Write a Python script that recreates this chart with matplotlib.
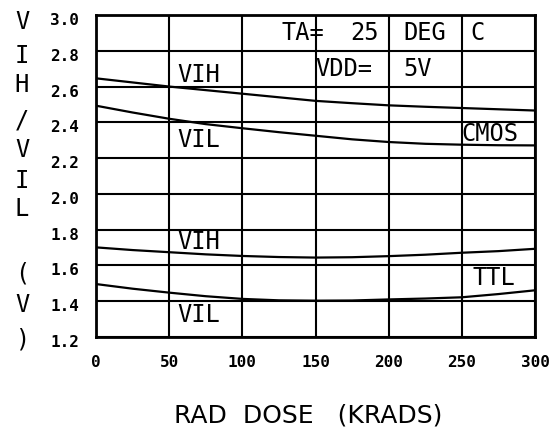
import matplotlib
matplotlib.use("Agg")
import matplotlib.pyplot as plt
import matplotlib.transforms as mtransforms

dose = [0, 25, 50, 75, 100, 125, 150, 175, 200, 225, 250, 275, 300]
cmos_vih = [2.646, 2.623, 2.600, 2.580, 2.560, 2.540, 2.520, 2.507, 2.495, 2.487, 2.480, 2.473, 2.466]
cmos_vil = [2.493, 2.455, 2.420, 2.390, 2.367, 2.345, 2.325, 2.305, 2.290, 2.280, 2.275, 2.272, 2.271]
ttl_vih = [1.701, 1.686, 1.674, 1.662, 1.653, 1.647, 1.644, 1.646, 1.652, 1.660, 1.671, 1.680, 1.693]
ttl_vil = [1.496, 1.470, 1.448, 1.428, 1.413, 1.405, 1.403, 1.404, 1.410, 1.415, 1.422, 1.440, 1.461]

xticks = [0, 50, 100, 150, 200, 250, 300]
xticklabels = ["0", "50", "100", "150", "200", "250", "300"]
yticks = [1.2, 1.4, 1.6, 1.8, 2.0, 2.2, 2.4, 2.6, 2.8, 3.0]
yticklabels = ["1.2", "1.4", "1.6", "1.8", "2.0", "2.2", "2.4", "2.6", "2.8", "3.0"]
ylabel_chars = ["V", "I", "H", "/", "V", "I", "L", "(", "V", ")"]
xlabel = "RAD  DOSE   (KRADS)"

W, H = 559, 429
fig = plt.figure(figsize=(W / 100, H / 100), dpi=100)
ax = fig.add_axes([96 / W, 1 - 337 / H, (535 - 96) / W, (337 - 15) / H])
ax.set_xlim(0, 300)
ax.set_ylim(1.2, 3.0)

mono = "DejaVu Sans Mono"

for s in ax.spines.values():
    s.set_linewidth(2.0)
    s.set_color("black")

ax.set_xticks(xticks)
ax.set_xticklabels(xticklabels, family=mono, fontweight="bold", fontsize=11.5)
ax.set_yticks(yticks)
ax.set_yticklabels(yticklabels, family=mono, fontweight="bold", fontsize=11.5)
ax.tick_params(length=0)
ax.tick_params(axis="x", pad=13)
ax.tick_params(axis="y", pad=12)
off = mtransforms.ScaledTranslation(0, -4 / 100, fig.dpi_scale_trans)
for lab in ax.get_yticklabels():
    lab.set_transform(lab.get_transform() + off)
ax.grid(True, color="black", linewidth=1.5)
ax.set_axisbelow(True)

for ys in (cmos_vih, cmos_vil, ttl_vih, ttl_vil):
    ax.plot(dose, ys, color="black", linewidth=1.6)

fs = 17
txt = dict(family=mono, fontsize=fs, color="black", va="center", ha="left")
ax.text(55.4, 2.665, "VIH", **txt)
ax.text(55.4, 2.300, "VIL", **txt)
ax.text(55.4, 1.731, "VIH", **txt)
ax.text(55.4, 1.323, "VIL", **txt)
ax.text(249.5, 2.335, "CMOS", **txt)
ax.text(257.6, 1.530, "TTL", **txt)
ax.text(127, 2.90, "TA=", **txt)
ax.text(173.6, 2.90, "25", **txt)
ax.text(209.8, 2.90, "DEG", **txt)
ax.text(255.6, 2.90, "C", **txt)
ax.text(149.7, 2.70, "VDD=", **txt)
ax.text(209.8, 2.70, "5V", **txt)

ypos = [22, 56, 85, 120, 150, 181, 209, 273, 305, 339]
for ch, yp in zip(ylabel_chars, ypos):
    fig.text(22 / W, 1 - yp / H, ch, family=mono, fontsize=fs, ha="center", va="center")

fig.text(308 / W, 1 - 416 / H, xlabel, family="DejaVu Sans", fontsize=18, ha="center", va="center")

fig.savefig("out.png", dpi=100, facecolor="white")
